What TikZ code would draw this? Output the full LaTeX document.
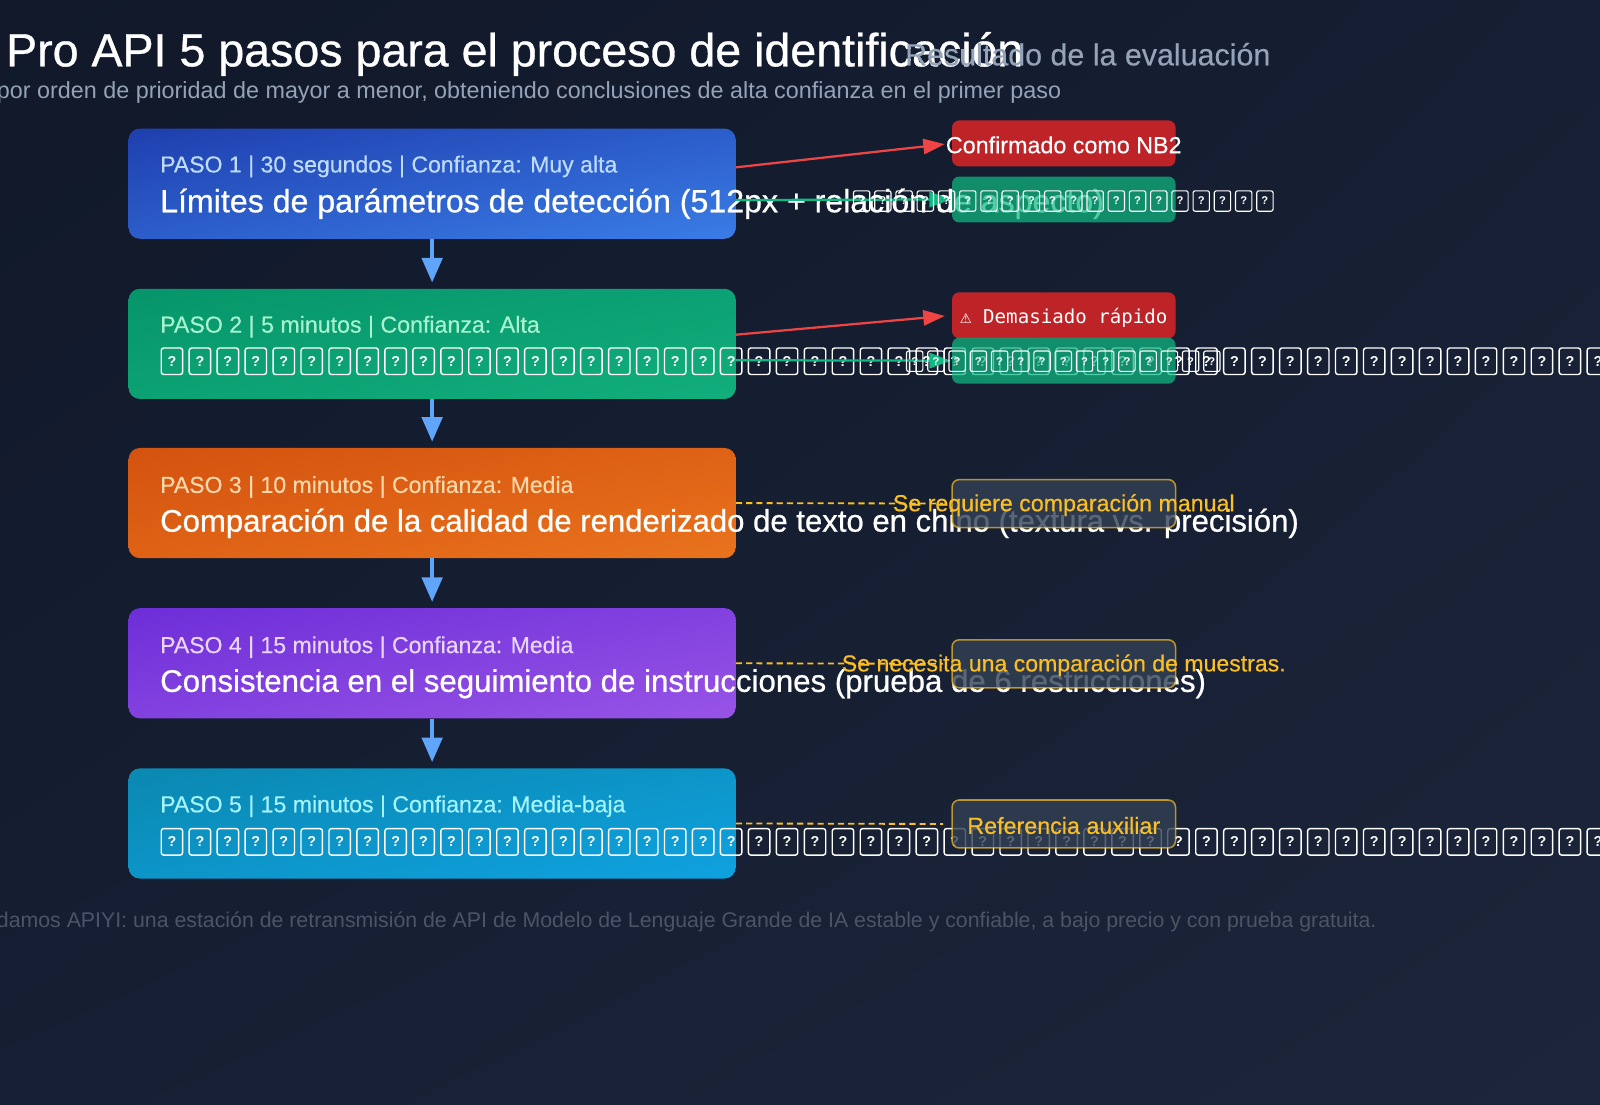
\documentclass[tikz,border=0pt]{standalone}
\usepackage{fontspec}
\setmainfont{Liberation Sans}
\setmonofont{DejaVu Sans Mono}
\newfontfamily\medfont{Liberation Sans}[FakeBold=0.7]
\newfontfamily\semifont{Liberation Sans}[FakeBold=0.4]
\usetikzlibrary{arrows.meta,shadings}
\definecolor{bgA}{HTML}{101829}
\definecolor{bgB}{HTML}{161F33}
\definecolor{bgC}{HTML}{1C2539}
\definecolor{b1a}{HTML}{1E3FAE}\definecolor{b1b}{HTML}{3A7CE6}
\definecolor{b2a}{HTML}{06956A}\definecolor{b2b}{HTML}{12AE7C}
\definecolor{b3a}{HTML}{D4520F}\definecolor{b3b}{HTML}{E9731D}
\definecolor{b4a}{HTML}{6D2ED8}\definecolor{b4b}{HTML}{9854E6}
\definecolor{b5a}{HTML}{0A88B0}\definecolor{b5b}{HTML}{0FA2E0}
\definecolor{h1}{HTML}{BFDBFE}
\definecolor{h2}{HTML}{A7F3D0}
\definecolor{h3}{HTML}{FED7AA}
\definecolor{h4}{HTML}{E9D5FF}
\definecolor{h5}{HTML}{A5F3FC}
\definecolor{greyT}{HTML}{94A3B8}
\definecolor{footT}{HTML}{4B5565}
\definecolor{arrB}{HTML}{60A5FA}
\definecolor{redC}{HTML}{DC2626}
\definecolor{redA}{HTML}{EF4444}
\definecolor{grnC}{HTML}{10B981}
\definecolor{gold}{HTML}{FBBF24}
\definecolor{slateC}{HTML}{334155}
\newlength\fitL
\newcommand\fitw[2]{\settowidth\fitL{\fontsize{10pt}{12pt}\selectfont #2}\pgfmathsetmacro\fitS{10*#1/\fitL}\fontsize{\fitS pt}{\fitS pt}\selectfont #2}
\begin{document}
\begin{tikzpicture}[x=1pt,y=-1pt,
  stepbox/.style={shade, rounded corners=11pt, minimum width=595pt, minimum height=108pt, inner sep=0pt},
  txt/.style={inner sep=0pt, outer sep=0pt},
  hdr/.style={txt, anchor=base west, font=\semifont},
  ttl/.style={txt, anchor=base west, text=white, font=\medfont},
  tofuL/.style={draw=white, line width=1.4pt, rounded corners=2.5pt, minimum width=21pt, minimum height=26pt, inner sep=0pt, text=white, font=\fontsize{14pt}{14pt}\selectfont\bfseries},
  tofuS/.style={draw=white, line width=1.1pt, rounded corners=2pt, minimum width=16pt, minimum height=20pt, inner sep=0pt, text=white, font=\fontsize{11pt}{11pt}\selectfont\bfseries},
  darr/.style={draw=arrB, line width=3.5pt, -{Triangle[width=20pt,length=24pt]}, shorten >=6pt},
  redarr/.style={draw=redA, line width=2.2pt, -{Triangle[width=15pt,length=21pt]}, shorten >=7pt},
  grnarr/.style={draw=grnC, line width=2.2pt, -{Triangle[width=15pt,length=21pt]}, shorten >=1pt},
  dline/.style={draw=gold, line width=1.8pt, dash pattern=on 6pt off 4pt, shorten >=8pt},
  resbox/.style={rounded corners=7pt, minimum width=219pt, inner sep=0pt},
  redbox/.style={resbox, fill=redC, fill opacity=0.85, minimum height=45pt},
  grnbox/.style={resbox, fill=grnC, fill opacity=0.72, minimum height=45pt},
  goldbox/.style={resbox, fill=slateC, fill opacity=0.8, draw=gold, draw opacity=0.7, line width=1.5pt, minimum height=47pt},
  lbl/.style={txt, text=white, font=\semifont},
  glbl/.style={txt, text=gold, font=\semifont}
]
\useasboundingbox (0,0) rectangle (1568,1082);
\shade[upper left=bgA, upper right=bgB, lower left=bgB, lower right=bgC] (0,0) rectangle (1568,1082);

% step boxes
\node[stepbox, upper left=b1a, lower right=b1b, upper right=b1a!50!b1b, lower left=b1a!50!b1b] (s1) at (423.5,180) {};
\node[stepbox, upper left=b2a, lower right=b2b, upper right=b2a!50!b2b, lower left=b2a!50!b2b] (s2) at (423.5,337) {};
\node[stepbox, upper left=b3a, lower right=b3b, upper right=b3a!50!b3b, lower left=b3a!50!b3b] (s3) at (423.5,493) {};
\node[stepbox, upper left=b4a, lower right=b4b, upper right=b4a!50!b4b, lower left=b4a!50!b4b] (s4) at (423.5,650) {};
\node[stepbox, upper left=b5a, lower right=b5b, upper right=b5a!50!b5b, lower left=b5a!50!b5b] (s5) at (423.5,807) {};

% down arrows
\draw[darr] (s1.south) -- (s2.north);
\draw[darr] (s2.south) -- (s3.north);
\draw[darr] (s3.south) -- (s4.north);
\draw[darr] (s4.south) -- (s5.north);

% step texts
\node[hdr, text=h1] (s1h) at (157,169) {\fitw{448}{PASO 1 | 30 segundos | Confianza: Muy alta}};
\node[ttl] (s1t) at (157,208) {\fitw{925}{Límites de parámetros de detección (512px + relación de aspecto)}};
\node[hdr, text=h2] (s2h) at (157,326) {\fitw{372}{PASO 2 | 5 minutos | Confianza: Alta}};
\foreach \i in {0,...,52} \node[tofuL] (t2-\i) at (168.5+27.4*\i,354) {?};
\node[hdr, text=h3] (s3h) at (157,483) {\fitw{405}{PASO 3 | 10 minutos | Confianza: Media}};
\node[ttl] (s3t) at (157,521) {\fitw{1116}{Comparación de la calidad de renderizado de texto en chino (textura vs. precisión)}};
\node[hdr, text=h4] (s4h) at (157,640) {\fitw{405}{PASO 4 | 15 minutos | Confianza: Media}};
\node[ttl] (s4t) at (157,678) {\fitw{1025}{Consistencia en el seguimiento de instrucciones (prueba de 6 restricciones)}};
\node[hdr, text=h5] (s5h) at (157,796) {\fitw{456}{PASO 5 | 15 minutos | Confianza: Media-baja}};
\foreach \i in {0,...,52} \node[tofuL] (t5-\i) at (168.5+27.4*\i,825) {?};

% result box positions
\path (1042.5,140.5) coordinate (r1ac) (1042.5,195.5) coordinate (r1bc)
      (1042.5,309) coordinate (r2ac) (1042.5,353.5) coordinate (r2bc);

% result boxes
\node[redbox] (r1a) at (r1ac) {};
\node[grnbox] (r1b) at (r1bc) {};
\node[redbox] (r2a) at (r2ac) {};
\node[grnbox] (r2b) at (r2bc) {};
\node[goldbox] (r3) at (1042.5,493.5) {};
\node[goldbox] (r4) at (1042.5,650.5) {};
\node[goldbox] (r5) at (1042.5,807.5) {};

% connectors
\draw[redarr] ([yshift=16pt]s1.east) -- (r1a.west);
\draw[grnarr] ([yshift=-16pt]s1.east) -- (r1b.west);
\draw[redarr] ([yshift=9pt]s2.east) -- (r2a.west);
\draw[grnarr] ([yshift=-16pt]s2.east) -- (r2b.west);
\draw[dline] (s3.east) -- (r3.west);
\draw[dline] (s4.east) -- (r4.west);
\draw[dline] (s5.east) -- (r5.west);

% result labels
\node[lbl] (r1l) at (1042.5,142) {\fitw{231}{Confirmado como NB2}};
\foreach \i in {0,...,19} \node[tofuS] (q1-\i) at (844.4+20.8*\i,197) {?};
\node[txt, text=white] (r2l) at (1042.5,311) {\ttfamily\fitw{203}{⚠ Demasiado rápido}};
\foreach \i in {0,...,14} \node[tofuS] (q2-\i) at (896.4+20.8*\i,354) {?};
\node[glbl] (r3l) at (1042.5,495) {\fitw{335}{Se requiere comparación manual}};
\node[glbl] (r4l) at (1042.5,652) {\fitw{435}{Se necesita una comparación de muestras.}};
\node[glbl] (r5l) at (1042.5,809) {\fitw{189}{Referencia auxiliar}};

% titles
\node[txt, anchor=base west, text=white, font=\medfont] (title) at (6,65) {\fitw{997}{Pro API 5 pasos para el proceso de identificación}};
\node[txt, anchor=base west, text=greyT] (sub) at (-3,97) {\fitw{1043}{por orden de prioridad de mayor a menor, obteniendo conclusiones de alta confianza en el primer paso}};
\node[txt, anchor=base west, text=greyT, font=\semifont] (restitle) at (887,64) {\fitw{358}{Resultado de la evaluación}};
\node[txt, anchor=base west, text=footT] (foot) at (-3,909) {\fitw{1352}{damos APIYI: una estación de retransmisión de API de Modelo de Lenguaje Grande de IA estable y confiable, a bajo precio y con prueba gratuita.}};
\end{tikzpicture}
\end{document}
